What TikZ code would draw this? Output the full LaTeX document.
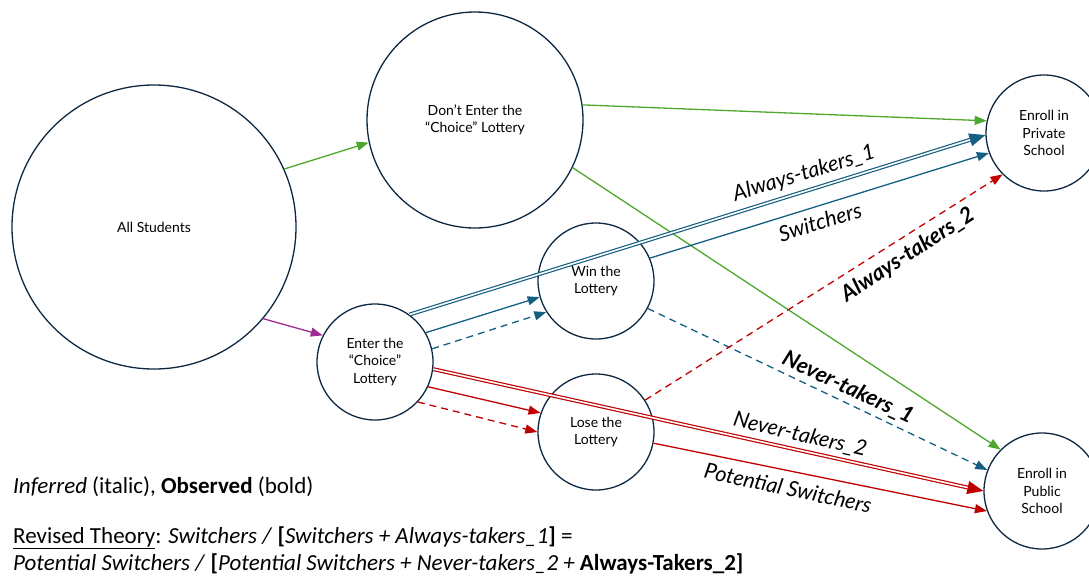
\documentclass[tikz,border=0pt]{standalone}
\usepackage{fontspec}
\setmainfont{Lato}
\newfontfamily\notefont{Carlito}
\usetikzlibrary{arrows.meta}
\definecolor{navy}{HTML}{0E2841}
\definecolor{leafgreen}{HTML}{4EA72E}
\definecolor{plum}{HTML}{A02B93}
\definecolor{steel}{HTML}{156082}
\definecolor{brick}{HTML}{C00000}
\tikzset{
    group/.style={circle,draw=navy,line width=1.3pt,align=center,inner sep=0pt,font=\fontsize{14}{17.5}\selectfont},
    flow/.style={line width=1.3pt,-{Triangle[length=12pt,width=9pt]}},
    pair/.style={line width=1.2pt,double=white,double distance=1.6pt,-{Triangle[length=16pt,width=13pt]}},
    guessed/.style={dash pattern=on 7pt off 5pt},
    inferred/.style={font=\fontsize{21.5}{24}\selectfont\itshape,inner sep=0pt},
    observed/.style={font=\fontsize{22}{24}\selectfont\bfseries\itshape,inner sep=0pt},
    note/.style={font=\notefont\fontsize{23}{27}\selectfont,anchor=base west,inner sep=0pt},
}

\begin{document}
\begin{tikzpicture}[x=1pt,y=-1pt]
\useasboundingbox (0,0) rectangle (1089,576);
% groups of students
\node[group,minimum size=284pt](all) at (154,227) {All Students};
\node[group,minimum size=216pt](out) at (475,120) {Don’t Enter the\\“Choice” Lottery};
\node[group,minimum size=116pt](enter) at (375,362) {Enter the\\“Choice”\\Lottery};
\node[group,minimum size=116pt](win) at (596,281) {Win the\\Lottery};
\node[group,minimum size=116pt](lose) at (596,432) {Lose the\\Lottery};
\node[group,minimum size=116pt](private) at (1044,133) {Enroll in\\Private\\School};
\node[group,minimum size=116pt](public) at (1042,491) {Enroll in\\Public\\School};
% flows
\draw[flow,leafgreen] (all.24.8) -- (out.192);
\draw[flow,leafgreen] (out.8.4) -- (private.168.7);
\draw[flow,leafgreen] (out.334.4) -- (public.135.7);
\draw[flow,plum] (all.320.9) -- (enter.153.9);
\draw[pair,steel] (enter.54.6) -- (private.182);
\draw[flow,steel] (enter.30.1) -- (win.196);
\draw[flow,steel,guessed] (enter.13.6) -- (win.212);
\draw[flow,steel] (win.23.9) -- (private.200.6);
\draw[flow,steel,guessed] (win.332.6) -- (public.159);
\draw[pair,brick] (enter.353) -- (public.180);
\draw[flow,brick] (enter.335.6) -- (lose.161.3);
\draw[flow,brick,guessed] (enter.317) -- (lose.180);
\draw[flow,brick] (lose.349.1) -- (public.200);
\draw[flow,brick,guessed] (lose.33.1) -- (private.225);
% labels
\node[inferred,rotate=17](at1) at (804,174) {Always-takers\_1};
\node[inferred,rotate=17](sw) at (820,222) {Switchers};
\node[observed,rotate=33](at2) at (908,255) {Always-takers\_2};
\node[observed,rotate=-25](nt1) at (848,388) {Never-takers\_1};
\node[inferred,rotate=-13](nt2) at (800,435) {Never-takers\_2};
\node[inferred,rotate=-12](psw) at (788,488) {Potential Switchers};
% key and theory
\node[note](key) at (13,493) {\textit{Inferred} (italic), \textbf{Observed} (bold)};
\node[note](theory) at (13,543) {\underline{Revised Theory}: \textit{Switchers /} \textbf{[}\textit{Switchers + Always-takers\_1}\textbf{]} =};
\node[note](ratio) at (13,570) {\textit{Potential Switchers /} \textbf{[}\textit{Potential Switchers + Never-takers\_2 +} \textbf{Always-Takers\_2]}};
\end{tikzpicture}
\end{document}
